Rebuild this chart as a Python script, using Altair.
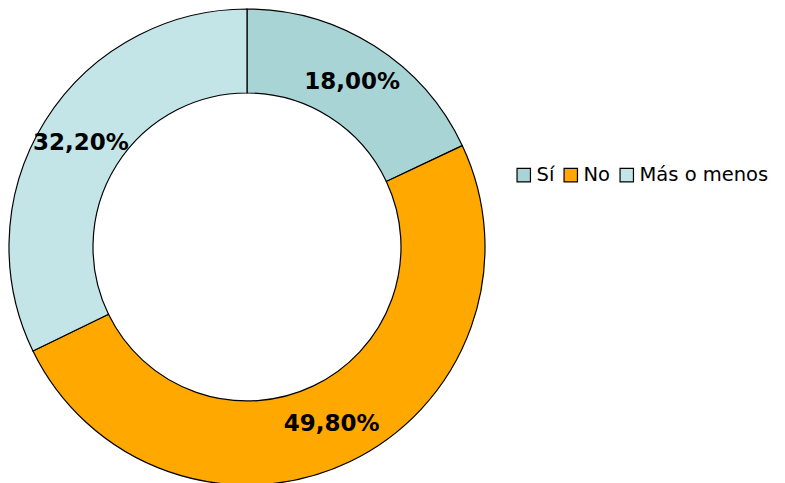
import altair as alt
import pandas as pd

categories = ["Sí", "No", "Más o menos"]
values = [18.0, 49.8, 32.2]
labels = ["18,00%", "49,80%", "32,20%"]
colors = ["#A8D4D6", "#FFA800", "#C4E5E7"]

df = pd.DataFrame({"cat": categories, "value": values, "label": labels,
                   "ord": list(range(len(categories)))})

base = alt.Chart(df).encode(
    theta=alt.Theta("value:Q", stack=True),
    order=alt.Order("ord:Q"),
    x=alt.value(239),
    y=alt.value(239),
)

arcs = base.mark_arc(outerRadius=238, innerRadius=154, stroke="black", strokeWidth=1.2).encode(
    color=alt.Color(
        "cat:N",
        scale=alt.Scale(domain=categories, range=colors),
        sort=categories,
        legend=alt.Legend(
            title=None,
            orient="none",
            direction="horizontal",
            legendX=506,
            legendY=157,
            symbolType="square",
            symbolSize=180,
            symbolStrokeColor="black",
            symbolStrokeWidth=1.2,
            symbolOpacity=1,
            labelFont="DejaVu Sans",
            labelFontSize=19.5,
            labelColor="black",
            labelOffset=3,
            columnPadding=6,
            labelLimit=300,
        ),
    )
)

text = base.mark_text(radius=196, font="DejaVu Sans", fontSize=23, fontWeight="bold",
                      color="black").encode(text="label:N")

chart = (arcs + text).properties(
    width=769, height=475, padding=0, autosize=alt.AutoSizeParams(type="none")
).configure_view(stroke=None)

chart.save("out.html", embed_options={"renderer": "svg", "actions": False})
